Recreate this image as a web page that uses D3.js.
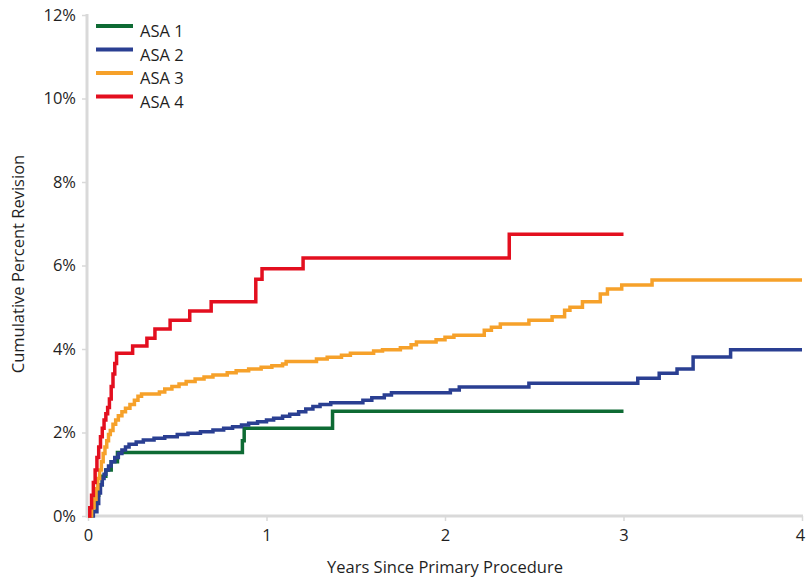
<!DOCTYPE html>
<html>
<head>
<meta charset="utf-8">
<script src="https://cdn.jsdelivr.net/npm/d3@7"></script>
<style>
  body { margin: 0; background: #fff; }
  text { font-family: "Open Sans", sans-serif; fill: #1f1f1f; }
</style>
</head>
<body>
<div id="area"></div>
<script>
// series: [years, cumulative percent revision]
const asa1 = [[0,0],[0.02,0.2],[0.04,0.5],[0.06,0.75],[0.08,0.95],[0.1,1.1],[0.13,1.3],[0.165,1.52],
  [0.865,1.8],[0.875,2.1],[1.37,2.51],[3.0,2.51]];
const asa2 = [[0,0],[0.03,0.1],[0.05,0.3],[0.06,0.55],[0.07,0.75],[0.08,0.9],[0.09,1.0],[0.1,1.1],
  [0.115,1.2],[0.13,1.3],[0.15,1.4],[0.17,1.5],[0.19,1.58],[0.21,1.65],[0.23,1.72],[0.27,1.77],
  [0.31,1.82],[0.37,1.86],[0.43,1.9],[0.5,1.95],[0.56,1.98],[0.63,2.02],[0.7,2.06],[0.76,2.1],
  [0.81,2.14],[0.86,2.18],[0.9,2.22],[0.95,2.26],[1.0,2.3],[1.04,2.34],[1.09,2.39],[1.13,2.44],
  [1.18,2.5],[1.22,2.56],[1.26,2.62],[1.3,2.67],[1.36,2.71],[1.54,2.77],[1.59,2.83],[1.66,2.9],
  [1.7,2.95],[2.03,3.02],[2.08,3.09],[2.47,3.18],[3.08,3.3],[3.2,3.42],[3.3,3.52],[3.39,3.81],
  [3.6,3.98],[4.0,3.98]];
const asa3 = [[0,0],[0.02,0.2],[0.034,0.4],[0.045,0.65],[0.055,0.9],[0.065,1.1],[0.075,1.3],
  [0.085,1.5],[0.095,1.65],[0.105,1.8],[0.115,1.95],[0.125,2.05],[0.14,2.2],[0.155,2.3],[0.17,2.4],
  [0.19,2.5],[0.21,2.58],[0.235,2.67],[0.26,2.77],[0.28,2.87],[0.3,2.92],[0.4,2.97],[0.43,3.04],
  [0.47,3.1],[0.51,3.16],[0.55,3.22],[0.6,3.28],[0.65,3.33],[0.7,3.38],[0.78,3.43],[0.83,3.48],
  [0.9,3.52],[0.97,3.56],[1.03,3.6],[1.09,3.64],[1.11,3.7],[1.28,3.76],[1.34,3.8],[1.42,3.85],
  [1.47,3.9],[1.6,3.95],[1.65,3.98],[1.75,4.03],[1.81,4.1],[1.84,4.17],[1.95,4.22],[2.0,4.28],
  [2.05,4.33],[2.22,4.45],[2.26,4.52],[2.31,4.6],[2.47,4.69],[2.6,4.77],[2.67,4.93],[2.7,5.0],
  [2.77,5.13],[2.87,5.32],[2.91,5.44],[2.99,5.53],[3.16,5.65],[4.0,5.65]];
const asa4 = [[0,0],[0.01,0.2],[0.02,0.5],[0.03,0.8],[0.04,1.1],[0.05,1.4],[0.06,1.65],[0.07,1.9],
  [0.08,2.1],[0.09,2.3],[0.1,2.45],[0.11,2.6],[0.12,2.8],[0.13,3.1],[0.14,3.4],[0.15,3.65],
  [0.16,3.9],[0.25,4.07],[0.33,4.26],[0.375,4.48],[0.46,4.69],[0.57,4.91],[0.69,5.13],
  [0.94,5.67],[0.975,5.92],[1.205,6.18],[2.36,6.75],[3.0,6.75]];

const seriesNames = ['ASA 1', 'ASA 2', 'ASA 3', 'ASA 4'];
const seriesData = [asa1, asa2, asa3, asa4];
const seriesColors = ['#0e6b34', '#2a3f92', '#f6a12a', '#e30f1f'];

const xTicks = [0, 1, 2, 3, 4];
const yTicks = [0, 2, 4, 6, 8, 10, 12];

const width = 807, height = 578;
const margin = { left: 88, right: 4, top: 15, bottom: 62 };
const fontSize = 16.5;

const svg = d3.select('#area').append('svg')
  .attr('width', width)
  .attr('height', height);

const x = d3.scaleLinear().domain([0, 4]).range([margin.left, width - margin.right - 1]);
const y = d3.scaleLinear().domain([0, 12]).range([height - margin.bottom, margin.top]);

// axes
const axisColor = '#d9d9d9';
const yAxis = svg.append('g')
  .attr('transform', 'translate(' + (margin.left - 1) + ',0)')
  .call(d3.axisLeft(y).tickValues(yTicks).tickSize(5).tickPadding(6).tickFormat(d => d + '%'));
const xAxis = svg.append('g')
  .attr('transform', 'translate(0,' + y(0) + ')')
  .call(d3.axisBottom(x).tickValues(xTicks).tickSize(5).tickPadding(8).tickFormat(d3.format('d')));

[yAxis, xAxis].forEach(g => {
  g.select('.domain').attr('stroke', axisColor).attr('stroke-width', 3);
  g.selectAll('.tick line').attr('stroke', axisColor).attr('stroke-width', 1.5);
  g.selectAll('.tick text').attr('font-size', fontSize).attr('fill', '#1f1f1f')
    .attr('font-family', '"Open Sans", sans-serif');
});
yAxis.select('.domain').attr('d', 'M0,' + (y(0) + 1.5) + 'V' + (margin.top - 1));
xAxis.select('.domain').attr('d', 'M' + (margin.left - 2) + ',0H' + (width - 4));
xAxis.selectAll('.tick').filter(d => d === 4).select('text').attr('dx', -2);

// axis titles
svg.append('text')
  .attr('x', (x(0) + x(4)) / 2)
  .attr('y', 573)
  .attr('text-anchor', 'middle')
  .attr('font-size', fontSize)
  .text('Years Since Primary Procedure');

svg.append('text')
  .attr('transform', 'translate(24,' + 264 + ') rotate(-90)')
  .attr('text-anchor', 'middle')
  .attr('font-size', fontSize)
  .text('Cumulative Percent Revision');

// curves
const line = d3.line()
  .x(d => x(d[0]))
  .y(d => y(d[1]))
  .curve(d3.curveStepAfter);

svg.append('g').selectAll('path')
  .data(seriesData)
  .join('path')
  .attr('d', line)
  .attr('fill', 'none')
  .attr('stroke', (d, i) => seriesColors[i])
  .attr('stroke-width', 3.5)
  .attr('stroke-linejoin', 'miter');

// legend
const legend = svg.append('g');
seriesNames.forEach((name, i) => {
  const ly = 26 + i * 23.5;
  legend.append('line')
    .attr('x1', 96).attr('x2', 133)
    .attr('y1', ly).attr('y2', ly)
    .attr('stroke', seriesColors[i])
    .attr('stroke-width', 4);
  legend.append('text')
    .attr('x', 140)
    .attr('y', ly + 11)
    .attr('font-size', fontSize)
    .text(name);
});
</script>
</body>
</html>
